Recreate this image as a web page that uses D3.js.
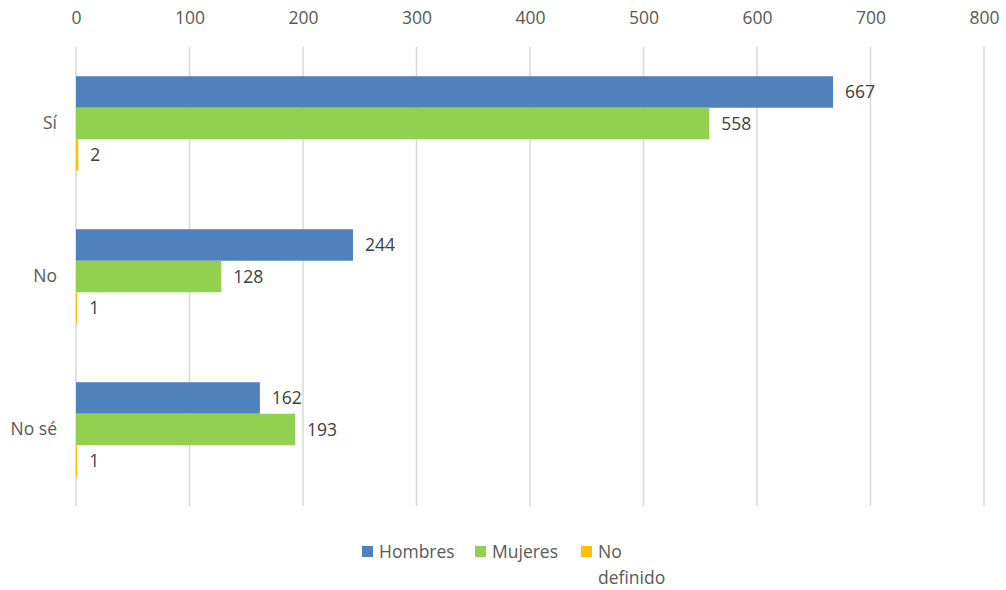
<!DOCTYPE html>
<html><head><meta charset="utf-8">
<script src="https://cdn.jsdelivr.net/npm/d3@7"></script>
<style>body{margin:0;background:#fff}svg{display:block}text{font-family:"Open Sans",Calibri,sans-serif}</style>
</head><body><svg id="c" width="1006" height="590"></svg>
<script>
const categories = ["Sí", "No", "No sé"];
const seriesNames = ["Hombres", "Mujeres", "No definido"];
const hombres = [667, 244, 162];
const mujeres = [558, 128, 193];
const noDefinido = [2, 1, 1];
const xTicks = [0, 100, 200, 300, 400, 500, 600, 700, 800];
const colors = ["#4F81BD", "#92D050", "#FFC000"];

const FS = 17.5;
const series = [hombres, mujeres, noDefinido];
const svg = d3.select("#c");
const x = d3.scaleLinear().domain([0, 800]).range([76, 984]);
const y = d3.scaleBand().domain(categories).range([47, 506]).paddingInner(0.382).paddingOuter(0.191);
const y1 = d3.scaleBand().domain(d3.range(3)).range([0, y.bandwidth()]);

// gridlines
svg.append("g").selectAll("line").data(xTicks).join("line")
  .attr("x1", d => x(d)).attr("x2", d => x(d))
  .attr("y1", 47).attr("y2", 506)
  .attr("stroke", "#d9d9d9").attr("stroke-width", 1.5);

// top axis labels
const ax = svg.append("g").attr("transform", "translate(0,18)")
  .call(d3.axisTop(x).tickValues(xTicks).tickSize(0).tickPadding(0));
ax.select(".domain").remove();
ax.selectAll("text").attr("fill", "#595959").attr("font-size", FS).attr("dy", "0.32em")
  .attr("font-family", '"Open Sans",sans-serif');

// category labels
const ay = svg.append("g").attr("transform", "translate(57,0)")
  .call(d3.axisLeft(y).tickSize(0).tickPadding(0));
ay.select(".domain").remove();
ay.selectAll("text").attr("fill", "#595959").attr("font-size", FS)
  .attr("font-family", '"Open Sans",sans-serif');

// bars
const groups = svg.append("g").selectAll("g").data(categories).join("g")
  .attr("transform", c => `translate(0,${y(c)})`);
groups.each(function(c, ci) {
  const g = d3.select(this);
  series.forEach((s, si) => {
    const v = s[ci];
    g.append("rect").attr("x", x(0)).attr("y", y1(si))
      .attr("width", Math.max(x(v) - x(0), 1)).attr("height", y1.bandwidth())
      .attr("fill", colors[si]);
    g.append("text").attr("x", x(v) + 12).attr("y", y1(si) + y1.bandwidth() / 2)
      .attr("dy", "0.35em").attr("fill", "#404040").attr("font-size", FS)
      .attr("font-family", '"Open Sans",sans-serif').text(v);
  });
});

// legend
const legendX = [362, 475, 581];
const lg = svg.append("g");
seriesNames.forEach((n, i) => {
  lg.append("rect").attr("x", legendX[i]).attr("y", 546).attr("width", 11).attr("height", 11).attr("fill", colors[i]);
  const parts = i === 2 ? ["No", "definido"] : [n];
  parts.forEach((p, j) => {
    lg.append("text").attr("x", legendX[i] + 17).attr("y", 552 + j * 26).attr("dy", "0.35em")
      .attr("fill", "#595959").attr("font-size", FS).attr("font-family", '"Open Sans",sans-serif').text(p);
  });
});
</script></body></html>
